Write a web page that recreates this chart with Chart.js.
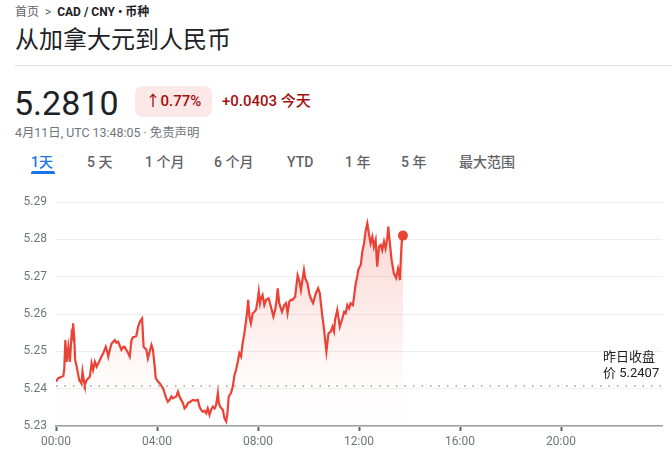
<!DOCTYPE html>
<html lang="zh-CN">
<head>
<meta charset="utf-8">
<title>CAD / CNY</title>
<script src="https://cdn.jsdelivr.net/npm/chart.js@4"></script>
<style>
  html, body { margin: 0; padding: 0; background: #fff; }
  body { width: 672px; height: 457px; position: relative; overflow: hidden;
         font-family: Roboto, "Noto Sans CJK SC", Arial, sans-serif; color: #202124; }
  .abs { position: absolute; line-height: 1; white-space: nowrap; }
  .crumb { left: 15px; top: 6px; font-size: 12px; color: #5f6368; }
  .crumb b { color: #202124; font-weight: 700; }
  .title { left: 15px; top: 28px; font-size: 24px; }
  .rule { position: absolute; left: 15px; right: 0; top: 65px; height: 1px; background: #e0e0e0; }
  .price { left: 14px; top: 86px; font-size: 34px; }
  .badge { left: 135px; top: 86px; width: 77px; height: 31px; border-radius: 8px; background: #fce8e6;
           color: #a50e0e; font-size: 15px; font-weight: 500; display: flex; align-items: center; justify-content: center; }
  .change { left: 222px; top: 94px; font-size: 15px; color: #a50e0e; font-weight: 500; }
  .stamp { left: 15px; top: 127px; font-size: 12.4px; color: #70757a; }
  .tab { top: 155px; font-size: 14px; color: #5f6368; font-weight: 500; }
  .tab.on { color: #1a73e8; }
  .bar { position: absolute; left: 31px; top: 171px; width: 24px; height: 3px; background: #1a73e8; border-radius: 2px 2px 0 0; }
  #wrap { position: absolute; left: 0; top: 185px; width: 672px; height: 272px; }
</style>
</head>
<body>
<div class="abs crumb">首页 &nbsp;&gt;&nbsp; <b>CAD / CNY • 币种</b></div>
<div class="abs title">从加拿大元到人民币</div>
<div class="rule"></div>
<div class="abs price">5.2810</div>
<div class="abs badge">↑0.77%</div>
<div class="abs change">+0.0403 今天</div>
<div class="abs stamp">4月11日, UTC 13:48:05 · 免责声明</div>
<div class="abs tab on" style="left:31px">1天</div>
<div class="abs tab" style="left:87px">5 天</div>
<div class="abs tab" style="left:145px">1 个月</div>
<div class="abs tab" style="left:214px">6 个月</div>
<div class="abs tab" style="left:287px">YTD</div>
<div class="abs tab" style="left:345px">1 年</div>
<div class="abs tab" style="left:401px">5 年</div>
<div class="abs tab" style="left:459px">最大范围</div>
<div class="bar"></div>
<div id="wrap"><canvas id="fx"></canvas></div>

<script>
// 时间（小时，UTC）与汇率
const hours = [
  0.00, 0.09, 0.22, 0.29, 0.33, 0.37, 0.42, 0.49, 0.55, 0.62, 0.66, 0.68, 0.72, 0.76, 0.82, 0.92,
  1.01, 1.05, 1.11, 1.14, 1.21, 1.34, 1.41, 1.47, 1.54, 1.61, 1.74, 1.80, 1.87, 1.97,
  2.03, 2.07, 2.13, 2.20, 2.33, 2.39, 2.46, 2.59, 2.66, 2.72, 2.86, 2.92, 2.99,
  3.05, 3.12, 3.18, 3.25, 3.32, 3.41, 3.47, 3.58, 3.64, 3.71, 3.78, 3.84, 3.91, 3.95,
  4.04, 4.11, 4.24, 4.30, 4.37, 4.43, 4.50, 4.57, 4.63, 4.76, 4.83, 4.89, 4.96,
  5.03, 5.09, 5.16, 5.22, 5.32, 5.42, 5.53, 5.62, 5.68, 5.75, 5.82, 5.88, 5.95,
  6.01, 6.08, 6.14, 6.21, 6.28, 6.34, 6.41, 6.45, 6.50, 6.61, 6.67, 6.74, 6.79, 6.84, 6.93,
  7.00, 7.07, 7.13, 7.20, 7.26, 7.33, 7.39, 7.46, 7.53, 7.57, 7.61, 7.66, 7.72, 7.79, 7.86, 7.92, 7.99,
  8.03, 8.08, 8.12, 8.18, 8.25, 8.32, 8.42, 8.51, 8.61, 8.68, 8.74, 8.78, 8.84, 8.95,
  9.04, 9.11, 9.17, 9.24, 9.30, 9.37, 9.47, 9.57, 9.63, 9.70, 9.76, 9.82, 9.87, 9.96,
  10.03, 10.09, 10.18, 10.29, 10.38, 10.45, 10.49, 10.55, 10.62, 10.66, 10.71, 10.79, 10.88, 10.95,
  11.01, 11.05, 11.14, 11.24, 11.34, 11.41, 11.47, 11.54, 11.61, 11.67, 11.76, 11.82, 11.87, 11.93, 11.97,
  12.03, 12.07, 12.13, 12.20, 12.26, 12.33, 12.39, 12.46, 12.53, 12.59, 12.66, 12.72, 12.79, 12.86, 12.92, 12.99,
  13.05, 13.12, 13.16, 13.21, 13.29, 13.38, 13.47, 13.55, 13.58, 13.62, 13.68, 13.71, 13.74
];
const rates = [
  5.2419, 5.2428, 5.2432, 5.2434, 5.2454, 5.2530, 5.2472, 5.2512, 5.2472, 5.2548, 5.2539, 5.2575, 5.2539, 5.2477, 5.2459, 5.2423,
  5.2414, 5.2446, 5.2419, 5.2410, 5.2423, 5.2432, 5.2468, 5.2450, 5.2472, 5.2459, 5.2477, 5.2486, 5.2495, 5.2512,
  5.2499, 5.2486, 5.2504, 5.2521, 5.2530, 5.2523, 5.2526, 5.2504, 5.2512, 5.2512, 5.2495, 5.2486, 5.2530,
  5.2538, 5.2539, 5.2541, 5.2566, 5.2579, 5.2588, 5.2512, 5.2504, 5.2481, 5.2499, 5.2517, 5.2504, 5.2459, 5.2428,
  5.2419, 5.2414, 5.2401, 5.2388, 5.2374, 5.2365, 5.2370, 5.2379, 5.2374, 5.2379, 5.2392, 5.2379, 5.2370,
  5.2361, 5.2347, 5.2352, 5.2361, 5.2365, 5.2370, 5.2368, 5.2370, 5.2352, 5.2343, 5.2338, 5.2341, 5.2334,
  5.2347, 5.2330, 5.2343, 5.2352, 5.2347, 5.2356, 5.2388, 5.2361, 5.2352, 5.2343, 5.2321, 5.2312, 5.2334, 5.2379, 5.2388,
  5.2405, 5.2437, 5.2450, 5.2472, 5.2495, 5.2486, 5.2521, 5.2548, 5.2584, 5.2606, 5.2638, 5.2593, 5.2575, 5.2602, 5.2606, 5.2611, 5.2638,
  5.2660, 5.2629, 5.2642, 5.2651, 5.2624, 5.2638, 5.2642, 5.2620, 5.2593, 5.2611, 5.2638, 5.2669, 5.2629, 5.2606,
  5.2624, 5.2629, 5.2602, 5.2633, 5.2638, 5.2638, 5.2646, 5.2704, 5.2691, 5.2664, 5.2691, 5.2718, 5.2696, 5.2682,
  5.2655, 5.2642, 5.2629, 5.2655, 5.2669, 5.2655, 5.2629, 5.2593, 5.2557, 5.2530, 5.2499, 5.2548, 5.2553, 5.2566,
  5.2553, 5.2584, 5.2611, 5.2566, 5.2588, 5.2606, 5.2602, 5.2624, 5.2615, 5.2629, 5.2624, 5.2655, 5.2682, 5.2700, 5.2718,
  5.2727, 5.2731, 5.2767, 5.2789, 5.2821, 5.2843, 5.2816, 5.2789, 5.2807, 5.2780, 5.2798, 5.2727, 5.2780, 5.2785, 5.2771, 5.2794,
  5.2776, 5.2803, 5.2834, 5.2798, 5.2745, 5.2709, 5.2696, 5.2722, 5.2713, 5.2691, 5.2780, 5.2807, 5.2810
];

const prevClose = 5.2407;               // 昨日收盘价
const dayRange = [0, 24];               // x 轴范围（小时）
const xTickHours = [0, 4, 8, 12, 16, 20];
const xTickLabels = ['00:00', '04:00', '08:00', '12:00', '16:00', '20:00'];
const yTickValues = [5.23, 5.24, 5.25, 5.26, 5.27, 5.28, 5.29];

const RED = '#ea4335';
const GREY = '#70757a';
const FONT = "Roboto, 'Noto Sans CJK SC', Arial, sans-serif";

const points = hours.map((h, i) => ({ x: h, y: rates[i] }));
const closeLine = dayRange.map(h => ({ x: h, y: prevClose }));
const lastIdx = points.length - 1;

// 右侧「昨日收盘价」标注
const closeLabel = {
  id: 'closeLabel',
  afterDatasetsDraw(chart) {
    const { ctx, chartArea, scales } = chart;
    const y = scales.y.getPixelForValue(prevClose);
    ctx.save();
    ctx.font = '13px ' + FONT;
    ctx.fillStyle = '#202124';
    ctx.textAlign = 'left';
    ctx.textBaseline = 'middle';
    ctx.fillText('昨日收盘', chartArea.right - 59, y - 28);
    ctx.fillText('价 ' + prevClose.toFixed(4), chartArea.right - 59, y - 12);
    ctx.restore();
  }
};

new Chart(document.getElementById('fx'), {
  type: 'line',
  data: {
    datasets: [
      {
        data: points,
        borderColor: RED,
        borderWidth: 2.2,
        tension: 0,
        fill: 'start',
        backgroundColor: (c) => {
          const area = c.chart.chartArea;
          if (!area) return 'rgba(234,67,53,0.15)';
          const g = c.chart.ctx.createLinearGradient(0, area.top, 0, area.bottom);
          g.addColorStop(0, 'rgba(234,67,53,0.24)');
          g.addColorStop(0.8, 'rgba(234,67,53,0.02)');
          g.addColorStop(1, 'rgba(234,67,53,0)');
          return g;
        },
        pointRadius: (c) => c.dataIndex === lastIdx ? 5 : 0,
        pointBackgroundColor: RED,
        pointBorderWidth: 0,
        pointHoverRadius: 0
      },
      {
        data: closeLine,
        borderColor: '#9aa0a6',
        borderWidth: 1.5,
        borderDash: [1.5, 7],
        pointRadius: 0,
        fill: false
      }
    ]
  },
  options: {
    responsive: true,
    maintainAspectRatio: false,
    animation: false,
    devicePixelRatio: 1,
    layout: { padding: { top: 17, right: 10, left: 0, bottom: 0 } },
    plugins: { legend: { display: false }, tooltip: { enabled: false } },
    scales: {
      x: {
        type: 'linear',
        min: dayRange[0],
        max: dayRange[1],
        afterBuildTicks: (s) => { s.ticks = xTickHours.map(v => ({ value: v })); },
        afterFit: (s) => { s.height = 31; },
        ticks: {
          color: GREY,
          font: { size: 12, family: FONT },
          padding: 4,
          maxRotation: 0,
          callback: (v) => xTickLabels[xTickHours.indexOf(v)]
        },
        grid: { drawOnChartArea: false, drawTicks: true, tickLength: 5, tickColor: '#5f6368', tickWidth: 2 },
        border: { display: true, color: '#9aa0a6', width: 1.5 }
      },
      y: {
        min: yTickValues[0],
        max: yTickValues[yTickValues.length - 1],
        afterBuildTicks: (s) => { s.ticks = yTickValues.map(v => ({ value: v })); },
        afterFit: (s) => { s.width = 56; },
        ticks: {
          color: GREY,
          font: { size: 12, family: FONT },
          padding: 9,
          callback: (v) => v.toFixed(2)
        },
        grid: { color: '#eeeeee', drawTicks: false },
        border: { display: false }
      }
    }
  },
  plugins: [closeLabel]
});
</script>
</body>
</html>
